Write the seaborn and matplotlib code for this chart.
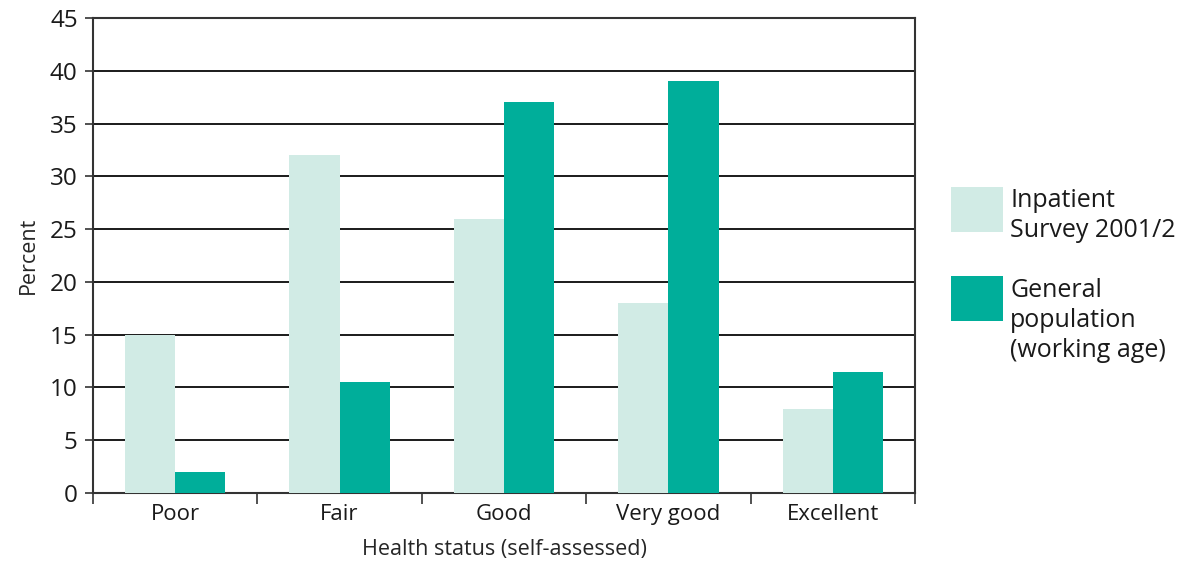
import seaborn as sns
import matplotlib.pyplot as plt
from matplotlib.patches import Rectangle
import pandas as pd

# Data
categories = ['Poor', 'Fair', 'Good', 'Very good', 'Excellent']
inpatient = [15, 32, 26, 18, 8]
general = [2, 10.5, 37, 39, 11.5]
series_names = ['Inpatient\nSurvey 2001/2', 'General\npopulation\n(working age)']

df = pd.DataFrame({
    'Health status': categories * 2,
    'Percent': inpatient + general,
    'Series': [series_names[0]] * 5 + [series_names[1]] * 5,
})

sns.set_style('white')
plt.rcParams['font.family'] = ['Open Sans', 'DejaVu Sans']
plt.rcParams['text.color'] = '#1a1a1a'

W, H = 1181, 561
fig = plt.figure(figsize=(W / 100, H / 100), dpi=100)
ax = fig.add_axes([93 / W, 1 - 493 / H, (915 - 93) / W, (493 - 18) / H])

palette = ['#d1ebe5', '#00ae9a']
sns.barplot(data=df, x='Health status', y='Percent', hue='Series',
            palette=palette, width=0.61, saturation=1, linewidth=0,
            ax=ax, zorder=3, legend=False)

ax.set_ylim(0, 45)
ax.set_xlim(-0.5, 4.5)
ax.set_yticks(range(0, 46, 5))
ax.yaxis.grid(True, color='#1a1a1a', linewidth=1.4, zorder=0)
ax.set_axisbelow(True)

# ticks between categories
ax.set_xticks(range(5))
ax.set_xticklabels(categories)
ax.tick_params(axis='x', which='major', length=0, labelsize=16, pad=8, colors='#1a1a1a')
ax.set_xticks([i - 0.5 for i in range(6)], minor=True)
ax.tick_params(axis='x', which='minor', length=8, width=1.2, color='#333333', direction='out', bottom=True)
ax.tick_params(axis='y', length=6, width=1.2, color='#333333', labelsize=17.5, left=True, pad=5,
               labelcolor='#1a1a1a')

for s in ax.spines.values():
    s.set_color('#333333')
    s.set_linewidth(1.5)

ax.set_xlabel('Health status (self-assessed)', fontsize=15.5, labelpad=10)
ax.set_ylabel('Percent', fontsize=15.5, labelpad=8)

# legend drawn as swatches + text to the right of the plot
sw_tops = [187, 276]
txt_tops = [188, 278]
for col, name, st, tt in zip(palette, series_names, sw_tops, txt_tops):
    fig.patches.append(Rectangle((951 / W, 1 - (st + 45) / H), 52 / W, 45 / H,
                                 transform=fig.transFigure, facecolor=col, edgecolor='none'))
    fig.text(1010 / W, 1 - tt / H, name, fontsize=18, va='top', ha='left', linespacing=1.25)

fig.savefig('out.png', dpi=100)
